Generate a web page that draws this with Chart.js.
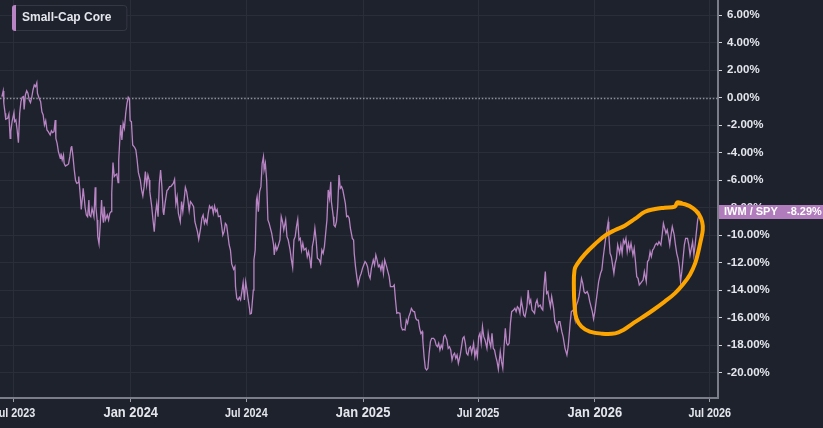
<!DOCTYPE html>
<html><head><meta charset="utf-8">
<style>html,body{margin:0;padding:0;background:#1e222d;overflow:hidden}canvas{display:block}</style>
<script src="https://cdn.jsdelivr.net/npm/chart.js@4"></script>
</head><body>
<canvas id="c" width="823" height="428"></canvas>
<script>
// ---- data (x = days since 2024-01-01, y = relative performance %) ----
const seriesLabel = 'Small-Cap Core';
const pairLabel = 'IWM / SPY';
const days = [
-203,-201,-200,-198,-197,-194,-192,-190,-189,-187,
-184,-183,-181,-179,-177,-175,-173,-171,-169,-168,
-166,-164,-162,-160,-158,-156,-154,-152,-150,-148,
-147,-145,-142,-140,-138,-136,-134,-132,-130,-127,
-125,-123,-121,-119,-118,-116,-114,-111,-110,-108,
-106,-105,-103,-100,-98,-96,-94,-93,-91,-89,
-87,-85,-83,-82,-79,-78,-76,-75,-73,-72,
-70,-68,-66,-65,-63,-61,-58,-56,-55,-53,
-52,-50,-48,-46,-45,-43,-42,-40,-37,-35,
-33,-31,-30,-28,-26,-24,-22,-20,-19,-16,
-14,-12,-10,-8,-6,-4,-2,-1,1,3,
6,8,10,12,15,17,19,21,23,25,
27,29,30,33,35,37,39,41,43,45,
47,49,51,52,54,57,59,61,63,65,
67,69,71,73,75,78,80,82,84,86,
88,90,92,94,96,99,101,103,105,107,
110,112,114,116,118,120,122,124,126,128,
130,132,134,136,138,141,143,145,147,149,
151,153,155,157,159,162,164,165,167,169,
171,173,175,177,179,181,183,185,187,188,
190,193,194,196,198,199,201,203,205,207,
209,210,212,214,216,218,220,222,225,226,
228,230,232,235,237,239,241,244,246,248,
251,253,255,257,259,261,263,265,267,269,
271,273,276,278,280,282,284,286,288,290,
292,294,297,299,301,303,305,307,309,311,
313,315,316,319,320,322,324,326,328,330,
332,334,336,338,340,342,344,346,349,351,
352,354,356,358,361,363,365,367,369,371,
373,375,377,379,382,384,386,388,390,392,
394,396,398,400,403,405,407,409,411,413,
415,417,419,421,424,426,428,430,432,434,
436,438,440,442,445,447,449,451,453,455,
457,459,460,462,464,466,468,470,472,474,
477,479,481,483,485,487,489,491,493,495,
498,500,502,504,506,508,510,512,514,516,
519,521,523,525,527,529,531,533,535,537,
540,542,544,546,548,550,552,554,556,558,
561,563,565,567,569,571,573,575,577,579,
582,584,586,588,590,592,594,596,598,600,
603,605,607,609,611,613,615,617,619,621,
624,626,628,630,632,634,636,638,640,642,
645,647,649,651,653,655,657,659,661,663,
666,668,670,672,674,676,679,681,684,687,
689,691,692,694,697,700,702,704,706,708,
710,712,714,716,719,721,723,725,727,729,
731,733,735,737,740,742,744,746,748,750,
752,753,755,757,759,761,763,765,767,770,
772,774,776,778,780,782,784,786,788,791,
793,795,797,799,801,803,805,807,809,812,
814,816,818,820,822,824,826,828,830,832,
835,837,839,841,843,845,847,849,851,853,
856,858,860,862,864,866,868,870,872,874,
877,879,881,883,885,887,889,891,893,895,
896
];
const values = [
0.08,0.49,-0.41,-1.14,-1.57,-1.50,-1.19,-2.96,-2.47,-1.74,
-1.09,-1.74,-1.62,-2.35,-3.27,-1.14,-0.29,0.03,0.08,-0.85,
0.20,0.51,0.32,-0.17,-0.36,0.03,0.56,0.92,0.80,1.09,
0.32,0.03,-0.29,-1.02,-1.26,-1.99,-1.67,-2.35,-2.47,-2.71,
-2.40,-2.54,-2.47,-1.62,-2.96,-3.32,-3.92,-4.41,-4.05,-4.53,
-4.17,-4.77,-4.97,-4.89,-4.82,-4.29,-3.61,-3.51,-4.29,-5.26,
-6.03,-6.23,-6.18,-5.74,-7.44,-8.12,-7.20,-6.59,-7.44,-7.97,
-8.53,-8.65,-7.44,-8.53,-8.65,-8.05,-8.65,-6.52,-7.92,-8.89,
-10.11,-10.64,-9.14,-7.44,-8.41,-9.09,-7.92,-8.89,-8.53,-8.89,
-8.41,-8.29,-6.95,-4.72,-5.74,-5.62,-5.55,-6.18,-4.53,-1.99,
-3.08,-1.86,-2.23,-1.14,-0.41,0.03,-0.12,-1.67,-1.74,-3.44,
-3.61,-3.80,-4.53,-5.45,-5.99,-6.71,-7.15,-6.47,-5.38,-6.35,
-5.62,-5.99,-6.83,-7.92,-8.89,-9.74,-8.41,-7.68,-8.65,-6.23,
-5.26,-6.47,-8.29,-8.53,-7.68,-6.76,-6.66,-6.47,-6.47,-6.35,
-6.23,-5.94,-7.73,-7.20,-8.41,-9.02,-7.56,-8.29,-7.44,-6.52,
-6.83,-7.44,-8.22,-7.56,-7.68,-7.92,-9.02,-9.38,-9.74,-10.30,
-9.50,-8.77,-8.53,-9.14,-8.85,-9.14,-8.41,-7.88,-8.05,-7.92,
-8.41,-7.88,-8.29,-8.12,-8.65,-8.60,-9.26,-9.99,-9.74,-9.14,
-9.26,-9.99,-10.71,-11.08,-12.09,-12.48,-12.29,-13.74,-14.59,-14.71,
-14.52,-14.71,-14.11,-13.45,-14.71,-13.38,-13.99,-14.71,-15.32,-15.73,
-15.68,-13.99,-11.80,-11.08,-7.44,-7.20,-8.29,-6.83,-6.47,-4.77,
-4.29,-5.26,-4.77,-5.99,-8.89,-9.14,-9.50,-9.86,-10.71,-11.44,
-10.71,-11.08,-10.83,-10.35,-8.65,-9.02,-9.62,-8.89,-10.11,-10.35,
-11.08,-11.80,-12.36,-10.35,-10.11,-9.38,-8.85,-10.35,-10.23,-11.08,
-10.59,-11.08,-10.95,-11.56,-11.20,-11.68,-12.41,-10.83,-10.35,-9.50,
-10.35,-11.68,-11.80,-12.05,-11.08,-11.32,-10.83,-9.86,-8.89,-6.71,
-7.32,-6.11,-7.56,-8.65,-9.26,-9.38,-9.02,-7.92,-5.62,-6.59,
-6.47,-6.71,-7.20,-7.68,-8.65,-8.60,-8.77,-9.50,-10.23,-10.35,
-11.32,-12.29,-13.01,-13.62,-13.01,-12.77,-12.41,-12.17,-11.92,-12.05,
-12.29,-12.89,-13.14,-12.41,-11.80,-12.17,-11.44,-11.80,-12.29,-12.17,
-12.53,-12.05,-12.77,-11.80,-12.29,-12.65,-13.01,-13.74,-13.74,-13.74,
-13.62,-14.71,-15.68,-15.63,-15.68,-16.65,-16.89,-16.85,-16.89,-16.17,
-16.41,-15.92,-15.68,-15.32,-15.56,-15.56,-16.05,-16.17,-16.17,-16.77,
-17.14,-17.01,-17.62,-18.83,-19.68,-19.80,-19.68,-18.59,-17.74,-17.50,
-17.50,-17.62,-17.99,-18.11,-17.86,-18.35,-17.99,-18.23,-17.38,-17.26,
-17.62,-18.23,-18.11,-18.35,-19.08,-18.71,-18.59,-18.95,-18.71,-19.32,
-18.71,-18.11,-17.50,-17.38,-17.86,-18.59,-18.71,-18.23,-18.11,-18.59,
-17.86,-18.83,-18.35,-18.83,-17.38,-17.14,-17.86,-16.65,-17.38,-17.62,
-18.23,-17.14,-17.74,-18.11,-17.14,-18.23,-18.35,-18.83,-19.20,-19.75,
-18.47,-19.20,-19.68,-18.11,-16.77,-17.86,-17.99,-17.86,-16.41,-15.56,
-15.44,-15.32,-15.56,-15.20,-15.32,-15.68,-14.71,-15.20,-15.80,-15.92,
-15.20,-13.99,-14.95,-14.71,-15.44,-15.56,-15.68,-14.95,-14.71,-15.20,
-15.08,-15.32,-15.44,-13.74,-12.65,-14.23,-14.11,-14.71,-15.20,-14.47,
-15.32,-16.29,-16.53,-16.89,-16.29,-16.29,-17.02,-17.38,-18.23,-18.71,
-18.11,-17.01,-16.41,-15.56,-15.44,-16.17,-15.08,-14.83,-14.47,-13.86,
-13.14,-13.50,-14.11,-14.23,-14.11,-14.35,-14.83,-15.20,-15.56,-16.09,
-15.56,-14.83,-14.11,-13.38,-12.77,-12.53,-11.68,-10.95,-10.23,-9.62,
-9.02,-9.98,-11.32,-11.56,-12.17,-12.77,-12.05,-11.68,-10.71,-11.32,
-10.71,-11.32,-10.35,-10.59,-10.23,-11.20,-10.59,-11.08,-10.59,-11.44,
-10.95,-11.92,-13.02,-13.14,-13.62,-13.50,-13.38,-13.26,-12.65,-13.38,
-11.92,-11.80,-11.20,-11.56,-11.08,-10.95,-10.71,-10.59,-10.71,-10.47,
-10.71,-9.98,-9.14,-9.50,-9.86,-9.62,-10.11,-10.71,-9.98,-9.38,
-9.98,-10.71,-11.32,-11.68,-12.29,-13.38,-12.65,-11.68,-10.71,-10.23,
-10.23,-10.71,-11.44,-10.95,-10.47,-11.44,-10.71,-9.74,-8.89,-8.53,
-8.29
];
// hand-drawn highlight loop (same units)
const markDays = [860,873,886,895,900,901,898,894,889,881,870,857,841,823,805,789,776,763,742,723,710,702,699,698,699,704,715,731,747,763,778,794,810,826,841,857,861,868];
const markValues = [-7.68,-7.75,-8.05,-8.48,-9.02,-9.62,-10.35,-11.20,-12.05,-12.85,-13.57,-14.23,-14.83,-15.44,-16.00,-16.48,-16.89,-17.14,-17.16,-17.01,-16.65,-16.05,-15.08,-13.86,-12.53,-12.05,-11.39,-10.66,-10.03,-9.62,-9.31,-8.82,-8.29,-8.09,-8.00,-7.92,-7.61,-7.68];
const tickDays = [-184, 0, 182, 366, 547, 731, 912];
const tickLabels = ['Jul 2023','Jan 2024','Jul 2024','Jan 2025','Jul 2025','Jan 2026','Jul 2026'];
const yTicks = [-20,-18,-16,-14,-12,-10,-8,-6,-4,-2,0,2,4,6];

// ---- styling ----
const BG = '#1e222d', GRID = '#2a2e39', AXIS = '#7b7e88', TXT = '#e4e6ec';
const LINE = '#b884c4', BOX = '#b07cbc', MARK = '#fca400';
const SANS = '"Liberation Sans",Arial,sans-serif';

const bgPlugin = { id:'bg', beforeDraw(ch){ const c=ch.ctx; c.save(); c.fillStyle=BG; c.fillRect(0,0,ch.width,ch.height); c.restore(); } };
const zeroPlugin = { id:'zero', beforeDatasetsDraw(ch){
  const {ctx, chartArea:a, scales:{y}} = ch; const py = Math.round(y.getPixelForValue(0)) + 0.5;
  ctx.save(); ctx.strokeStyle='#8e919a'; ctx.lineWidth=1.4; ctx.setLineDash([1.5,1.8]);
  ctx.beginPath(); ctx.moveTo(a.left, py); ctx.lineTo(a.right, py); ctx.stroke(); ctx.restore(); } };
const overlayPlugin = { id:'overlay', afterDraw(ch){
  const {ctx, chartArea:a, scales:{x, y}} = ch;
  ctx.save();
  // condensed time-axis labels
  tickDays.forEach((d, i) => {
    const lab = tickLabels[i], jan = lab.startsWith('Jan');
    ctx.save();
    ctx.translate(x.getPixelForValue(d), a.bottom + (jan ? 19 : 18.5));
    ctx.scale(jan ? 0.86 : 0.9, 1);
    ctx.font = (jan ? 'bold 15px ' : 'bold 12px ') + SANS;
    ctx.textAlign = 'center'; ctx.textBaseline = 'alphabetic'; ctx.fillStyle = TXT;
    ctx.fillText(lab, 0, 0);
    ctx.restore();
  });
  // legend
  ctx.font = 'bold 12px ' + SANS;
  const tw = ctx.measureText(seriesLabel).width;
  const lx = 12.5, ly = 5.5, lw = tw + 25, lh = 25;
  ctx.beginPath(); ctx.roundRect(lx, ly, lw, lh, 3);
  ctx.fillStyle = BG; ctx.fill(); ctx.strokeStyle = '#343844'; ctx.lineWidth = 1; ctx.stroke();
  ctx.beginPath(); ctx.roundRect(lx-0.5, ly-0.5, 4, lh+1, [3,0,0,3]); ctx.fillStyle = LINE; ctx.fill();
  ctx.fillStyle = TXT; ctx.textBaseline = 'middle'; ctx.textAlign = 'left';
  ctx.fillText(seriesLabel, 22, 18);
  // last value box
  const last = values[values.length - 1];
  const py = y.getPixelForValue(last);
  ctx.fillStyle = BOX; ctx.fillRect(a.right + 1, Math.round(py) - 7, ch.width - a.right, 14);
  ctx.fillStyle = '#ffffff'; ctx.font = 'bold 11px ' + SANS;
  ctx.fillText(pairLabel, a.right + 6, py + 0.5);
  ctx.fillText(last.toFixed(2) + '%', a.right + 69, py + 0.5);
  ctx.restore(); } };

new Chart(document.getElementById('c'), {
  type: 'line',
  data: { datasets: [
    { label: seriesLabel, data: days.map((d,i)=>({x:d, y:values[i]})), borderColor: LINE, borderWidth: 1.3,
      pointRadius: 0, tension: 0, order: 1 },
    { label: 'highlight', data: markDays.map((d,i)=>({x:d, y:markValues[i]})), borderColor: MARK, borderWidth: 4,
      pointRadius: 0, tension: 0.4, borderCapStyle: 'round', borderJoinStyle: 'round', order: 0 }
  ]},
  options: {
    responsive: false, animation: false, devicePixelRatio: 1, events: [],
    layout: { padding: 0 },
    plugins: { legend: { display: false }, tooltip: { enabled: false } },
    scales: {
      x: { type: 'linear', position: 'bottom', min: -206, max: 925,
        afterBuildTicks: s => { s.ticks = tickDays.map(v => ({ value: v })); },
        afterFit: s => { s.height = 30; s.paddingLeft = 0; s.paddingRight = 0; },
        ticks: { display: false, autoSkip: false, maxRotation: 0, callback: (v, i) => tickLabels[i] },
        grid: { color: GRID, lineWidth: 1, tickLength: 4, tickColor: '#9a9da6' },
        border: { color: AXIS, width: 2 } },
      y: { position: 'right', min: -21.84, max: 7.105,
        afterBuildTicks: s => { s.ticks = yTicks.map(v => ({ value: v })); },
        afterFit: s => { s.width = 105; s.paddingTop = 0; s.paddingBottom = 0; },
        ticks: { padding: 5, color: TXT, font: { family: SANS, size: 11.5, weight: 'bold' },
          callback: v => v.toFixed(2) + '%' },
        grid: { color: GRID, lineWidth: 1, tickLength: 4, tickColor: '#d0d2d8' },
        border: { color: AXIS, width: 2 } }
    }
  },
  plugins: [bgPlugin, zeroPlugin, overlayPlugin]
});
</script>
</body></html>
